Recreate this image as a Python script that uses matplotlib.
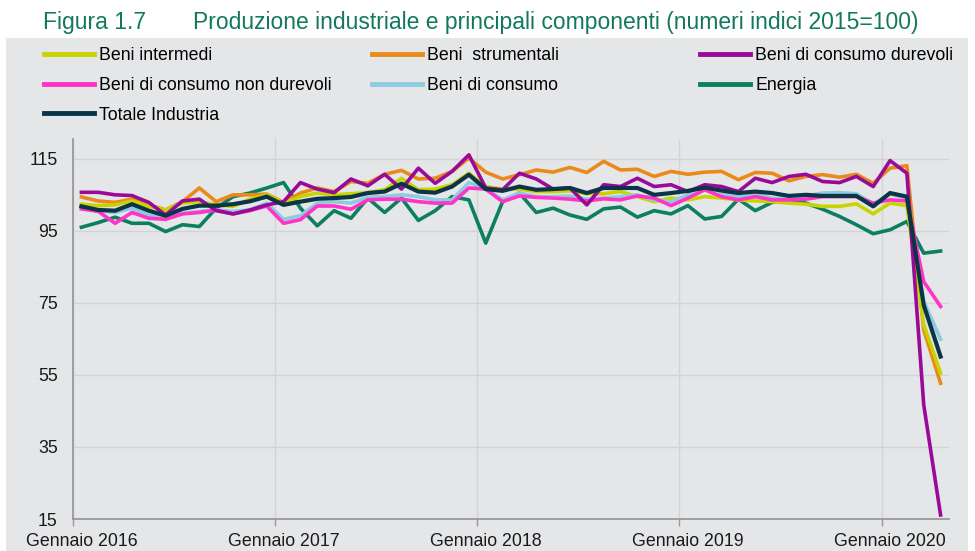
import matplotlib
matplotlib.use("Agg")
import matplotlib.pyplot as plt
from matplotlib.patches import Rectangle
from matplotlib.lines import Line2D
import numpy as np

font = {'family': ['Liberation Sans', 'DejaVu Sans'], 'size': 12.8}
matplotlib.rc('font', **font)

# mesi da gennaio 2016 ad aprile 2020
mesi = np.arange(52)
tick_labels = ["Gennaio 2016", "Gennaio 2017", "Gennaio 2018", "Gennaio 2019", "Gennaio 2020"]

beni_intermedi = [102.4, 102.0, 102.2, 103.3, 101.8, 100.8, 102.7, 103.1, 102.2, 101.8,
                  103.8, 105.0, 102.7, 104.5, 105.5, 105.0, 105.3, 105.6, 106.4, 109.6,
                  106.4, 106.6, 107.8, 111.0, 107.3, 106.6, 106.6, 105.9, 105.9, 106.1,
                  105.3, 105.3, 105.9, 104.5, 103.1, 104.1, 103.6, 104.5, 104.1, 103.6,
                  103.3, 103.1, 102.7, 102.4, 101.8, 101.8, 102.5, 99.7, 102.7, 102.0,
                  69.0, 55.5]
beni_strumentali = [104.4, 103.3, 102.9, 103.8, 102.2, 100.8, 103.1, 106.9, 103.1, 105.0,
                    105.0, 105.2, 102.9, 105.5, 106.9, 105.9, 108.7, 108.2, 110.7, 111.8,
                    109.4, 109.6, 111.5, 115.2, 111.3, 109.4, 110.6, 111.9, 111.3, 112.6,
                    111.2, 114.3, 111.9, 112.1, 110.1, 111.5, 110.7, 111.3, 111.5, 109.2,
                    111.2, 111.0, 108.9, 110.1, 110.6, 109.9, 110.7, 108.2, 112.4, 113.1,
                    67.5, 52.7]
beni_durevoli = [105.7, 105.7, 105.0, 104.8, 102.9, 99.4, 103.3, 103.8, 100.6, 99.7,
                 100.8, 102.2, 103.1, 108.4, 106.6, 105.6, 109.4, 107.5, 110.7, 106.6,
                 112.4, 108.2, 111.5, 116.1, 106.9, 106.4, 111.0, 109.4, 106.6, 106.9,
                 102.2, 107.8, 107.3, 109.6, 107.3, 107.8, 105.9, 107.8, 107.3, 105.9,
                 109.6, 108.4, 110.1, 110.7, 108.7, 108.4, 110.1, 107.3, 114.5, 111.0,
                 46.7, 16.1]
beni_non_durevoli = [101.1, 100.4, 97.1, 100.1, 98.5, 98.2, 99.7, 100.1, 100.8, 99.7,
                     100.6, 101.9, 97.1, 98.1, 101.9, 101.9, 101.0, 103.6, 103.8, 103.8,
                     103.1, 102.7, 102.7, 106.9, 106.6, 103.1, 104.7, 104.3, 104.1, 103.8,
                     103.3, 103.9, 103.6, 104.7, 104.1, 102.0, 104.1, 106.4, 104.5, 103.6,
                     104.5, 103.6, 103.6, 103.8, 104.5, 104.5, 104.5, 102.7, 103.6, 103.3,
                     80.9, 74.0]
beni_consumo = [101.3, 100.6, 100.1, 101.3, 99.4, 98.5, 99.9, 100.4, 100.8, 100.4,
                100.8, 102.7, 98.2, 99.2, 102.7, 103.1, 102.7, 104.3, 104.5, 105.0,
                104.5, 103.6, 103.6, 108.4, 106.6, 103.6, 105.5, 104.5, 104.5, 104.7,
                103.8, 104.1, 104.5, 105.0, 103.6, 103.1, 105.0, 107.8, 105.6, 104.5,
                105.0, 104.1, 104.1, 104.7, 105.5, 105.6, 105.3, 102.5, 105.2, 104.1,
                75.5, 64.9]
energia = [96.0, 97.3, 98.8, 97.1, 97.1, 94.8, 96.7, 96.2, 101.3, 104.5,
           105.5, 106.9, 108.4, 101.3, 96.4, 100.6, 98.5, 104.1, 100.1, 104.1,
           97.9, 100.6, 104.5, 103.6, 91.6, 103.1, 105.5, 100.1, 101.3, 99.4,
           98.2, 101.1, 101.6, 98.8, 100.6, 99.7, 102.0, 98.3, 99.0, 103.8,
           100.6, 102.9, 103.8, 102.7, 101.0, 99.0, 96.7, 94.2, 95.3, 97.6,
           88.8, 89.4]
totale = [101.8, 100.8, 100.6, 102.4, 100.6, 99.2, 101.1, 102.0, 102.0, 102.4,
          103.2, 104.5, 102.2, 103.1, 103.9, 104.1, 104.4, 105.5, 105.9, 108.1,
          105.9, 105.6, 107.3, 110.6, 106.6, 106.1, 107.3, 106.4, 106.6, 106.9,
          105.5, 106.9, 106.9, 106.9, 105.0, 105.5, 106.1, 107.0, 106.2, 105.5,
          105.9, 105.5, 104.7, 105.0, 104.7, 104.7, 104.7, 101.8, 105.5, 104.5,
          74.4, 60.1]

c_int = '#c8d400'
c_str = '#ea8a1a'
c_dur = '#9a0a98'
c_ndur = '#ff33c8'
c_cons = '#8ecbe0'
c_en = '#0c7f60'
c_tot = '#0b3447'
grigio = '#e5e6e8'
titolo_col = '#14785c'

fig = plt.figure(figsize=(9.75, 5.51), dpi=100)
fig.patches.append(Rectangle((6/975, 0), 962/975, (551-38)/551, transform=fig.transFigure,
                             facecolor=grigio, edgecolor='none', zorder=-5))

ax = fig.add_axes([73/975, 32/551, 876/975, 380/551])
ax.set_zorder(2)
ax.set_facecolor(grigio)

lw = 2.6
ax.plot(mesi, energia, color=c_en, lw=lw, zorder=3)
ax.plot(mesi, beni_strumentali, color=c_str, lw=lw, zorder=3)
ax.plot(mesi, beni_intermedi, color=c_int, lw=lw, zorder=3)
ax.plot(mesi, beni_consumo, color=c_cons, lw=lw, zorder=3)
ax.plot(mesi, beni_non_durevoli, color=c_ndur, lw=lw, zorder=3)
ax.plot(mesi, beni_durevoli, color=c_dur, lw=lw, zorder=3)
ax.plot(mesi, totale, color=c_tot, lw=lw + 0.4, zorder=4)

ax.set_xlim(-0.5, 51.5)
ax.set_ylim(15, 120.5)
ax.set_yticks([15, 35, 55, 75, 95, 115])
ax.set_xticks([-0.5, 11.5, 23.5, 35.5, 47.5])
ax.set_xticklabels([])
ax.set_xticks([0, 12, 24, 36, 48], minor=True)
ax.set_xticklabels(tick_labels, minor=True)
ax.tick_params(axis='x', which='major', length=5, width=1, color='#999999', direction='out')
ax.tick_params(axis='x', which='minor', length=0, pad=10, labelcolor='#1a1a1a')
ax.tick_params(axis='y', length=0, pad=11, labelcolor='#1a1a1a')
ax.grid(True, which='major', color='#d2d3d5', lw=1)
ax.set_axisbelow(True)
for s in ['top', 'right']:
    ax.spines[s].set_visible(False)
for s in ['left', 'bottom']:
    ax.spines[s].set_color('#999999')
    ax.spines[s].set_linewidth(1.3)

fig.text(43/975, 1 - 29/551, "Figura 1.7", color=titolo_col, fontsize=16.5, va='baseline')
fig.text(193/975, 1 - 29/551, "Produzione industriale e principali componenti (numeri indici 2015=100)",
         color=titolo_col, fontsize=16.5, va='baseline')

colonne = [
    (44, [("Beni intermedi", c_int), ("Beni di consumo non durevoli", c_ndur), ("Totale Industria", c_tot)]),
    (372, [("Beni  strumentali", c_str), ("Beni di consumo", c_cons)]),
    (700, [("Beni di consumo durevoli", c_dur), ("Energia", c_en)]),
]
for x0, voci in colonne:
    handles = [Line2D([], [], color=c, lw=3.5) for _, c in voci]
    leg = fig.legend(handles, [t for t, _ in voci], loc='upper left',
                     bbox_to_anchor=(x0/975, 1 - 47/551), frameon=False,
                     borderpad=0, borderaxespad=0, handlelength=2.8,
                     handletextpad=0.3, labelspacing=0.72, fontsize=12.8)

plt.savefig("out.png", dpi=100, facecolor='white')
